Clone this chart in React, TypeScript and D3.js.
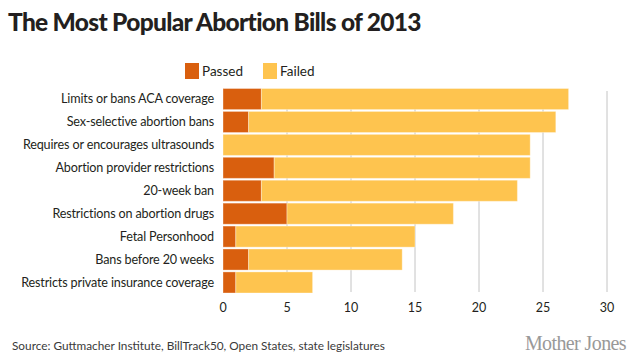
import React from 'react';
import * as d3 from 'd3';

const categories = [
  'Limits or bans ACA coverage',
  'Sex-selective abortion bans',
  'Requires or encourages ultrasounds',
  'Abortion provider restrictions',
  '20-week ban',
  'Restrictions on abortion drugs',
  'Fetal Personhood',
  'Bans before 20 weeks',
  'Restricts private insurance coverage',
];
const passed = [3, 2, 0, 4, 3, 5, 1, 2, 1];
const failed = [24, 24, 24, 20, 20, 13, 14, 12, 6];
const xTicks = [0, 5, 10, 15, 20, 25, 30];
const seriesNames = ['Passed', 'Failed'];
const seriesColors = ['#d95f0e', '#fec44f'];

const W = 630;
const H = 361;
const font = 'Lato, "Open Sans", sans-serif';

const App = () => {
  const x = d3.scaleLinear().domain([0, 30]).range([223, 607]);
  const y = d3.scaleBand<string>().domain(categories).range([88.5, 293]).paddingInner(0.08);

  const rows = categories.map((c, i) => ({ c, p: passed[i], f: failed[i] }));
  const stack = d3.stack<any>().keys(['p', 'f'])(rows);

  return (
    <svg width={W} height={H} style={{ position: 'absolute', left: 0, top: 0, background: '#fff' }}>
      <text x={8} y={31} fontFamily={font} fontWeight={900} fontSize={24.5} fill="#231f20" letterSpacing={-0.7}>
        The Most Popular Abortion Bills of 2013
      </text>

      {/* legend */}
      {seriesNames.map((s, i) => (
        <g key={s} transform={`translate(${185 + i * 78},63)`}>
          <rect width={14} height={16} fill={seriesColors[i]} />
          <text x={17} y={13} fontFamily={font} fontSize={13.5} fill="#231f20">{s}</text>
        </g>
      ))}

      {/* grid */}
      {xTicks.slice(1).map(t => (
        <line key={t} x1={x(t)} x2={x(t)} y1={91} y2={292} stroke="#c4c4c4" strokeWidth={1} />
      ))}

      {/* bars */}
      {stack.map((layer, li) => (
        <g key={li} fill={seriesColors[li]}>
          {layer.map((d, i) =>
            d[1] > d[0] ? (
              <rect
                key={i}
                x={x(d[0])}
                y={y(categories[i])}
                width={x(d[1]) - x(d[0])}
                height={y.bandwidth()}
                stroke="rgba(255,255,255,0.35)"
                strokeWidth={1}
              />
            ) : null
          )}
        </g>
      ))}

      {/* category labels */}
      {categories.map(c => (
        <text key={c} x={214} y={(y(c) as number) + y.bandwidth() / 2} dy="0.35em" textAnchor="end"
          fontFamily={font} fontSize={12.6} letterSpacing={-0.15} fill="#231f20">
          {c}
        </text>
      ))}

      {/* x tick labels */}
      {xTicks.map(t => (
        <text key={t} x={x(t)} y={312} textAnchor="middle" fontFamily={font} fontSize={12.5} fill="#231f20">
          {t}
        </text>
      ))}

      <text x={12} y={350} fontFamily={font} fontSize={11.8} fill="#3a3a3a">
        Source: Guttmacher Institute, BillTrack50, Open States, state legislatures
      </text>
      <text x={626} y={350} textAnchor="end" fontFamily='"Liberation Serif", "DejaVu Serif", serif' fontSize={20} fill="#999" letterSpacing={-0.6}>
        Mother Jones
      </text>
    </svg>
  );
};

export default App;
